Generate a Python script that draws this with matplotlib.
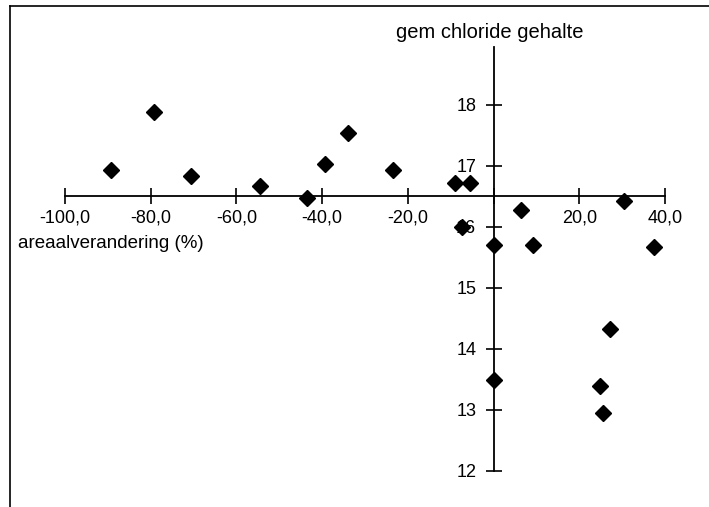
import numpy as np
import matplotlib.pyplot as plt
from matplotlib.lines import Line2D
from matplotlib.ticker import FuncFormatter

plt.rcParams['font.family'] = ['Liberation Sans', 'DejaVu Sans']

# areaalverandering (%) vs gem chloride gehalte
area_change = [-89.3, -79.2, -70.5, -54.5, -43.5, -39.3, -33.9, -23.5, -8.9, -5.5,
               -7.4, 6.3, 30.4, 0.0, 9.2, 37.5, 0.1, 27.2, 24.8, 25.5]
chloride = [16.92, 17.87, 16.82, 16.66, 16.47, 17.02, 17.53, 16.92, 16.71, 16.71,
            16.0, 16.27, 16.41, 15.70, 15.70, 15.67, 13.48, 14.32, 13.39, 12.95]

x_ticks = [-100, -80, -60, -40, -20, 0, 20, 40]
y_ticks = [12, 13, 14, 15, 16, 17, 18]

fig = plt.figure(figsize=(7.09, 5.07), dpi=100)
# axes placed so that data -> pixel matches the scan
ax = fig.add_axes([43.5 / 709, 6 / 507, 642.9 / 709, 488 / 507])
ax.set_xlim(-105, 45)
ax.set_ylim(11.5, 19.5)

ax.plot(area_change, chloride, linestyle='none', marker='D', markersize=8,
        color='black')

for s in ['top', 'right']:
    ax.spines[s].set_visible(False)
ax.spines['left'].set_position(('data', 0))
ax.spines['bottom'].set_position(('data', 16.5))
ax.spines['left'].set_bounds(12, 18.95)
ax.spines['bottom'].set_bounds(-100, 40)
for s in ['left', 'bottom']:
    ax.spines[s].set_linewidth(1.3)

ax.set_xticks(x_ticks)
ax.set_yticks(y_ticks)
ax.xaxis.set_major_formatter(FuncFormatter(lambda v, p: ('' if v == 0 else f'{v:.1f}'.replace('.', ','))))
ax.tick_params(axis='both', direction='inout', length=11, width=1.2, labelsize=13)
ax.tick_params(axis='x', pad=4)
ax.tick_params(axis='y', pad=7)

fig.text(490 / 709, 1 - 32 / 507, 'gem chloride gehalte', ha='center', va='center', fontsize=14.5)
fig.text(18 / 709, 1 - 243 / 507, 'areaalverandering (%)', ha='left', va='center', fontsize=13.5)

# scanned frame
fig.add_artist(Line2D([10 / 709, 1], [1 - 6 / 507, 1 - 6 / 507], color='black', lw=1.2))
fig.add_artist(Line2D([10 / 709, 10 / 709], [0, 1 - 6 / 507], color='black', lw=1.2))

fig.savefig('out.png', dpi=100)
